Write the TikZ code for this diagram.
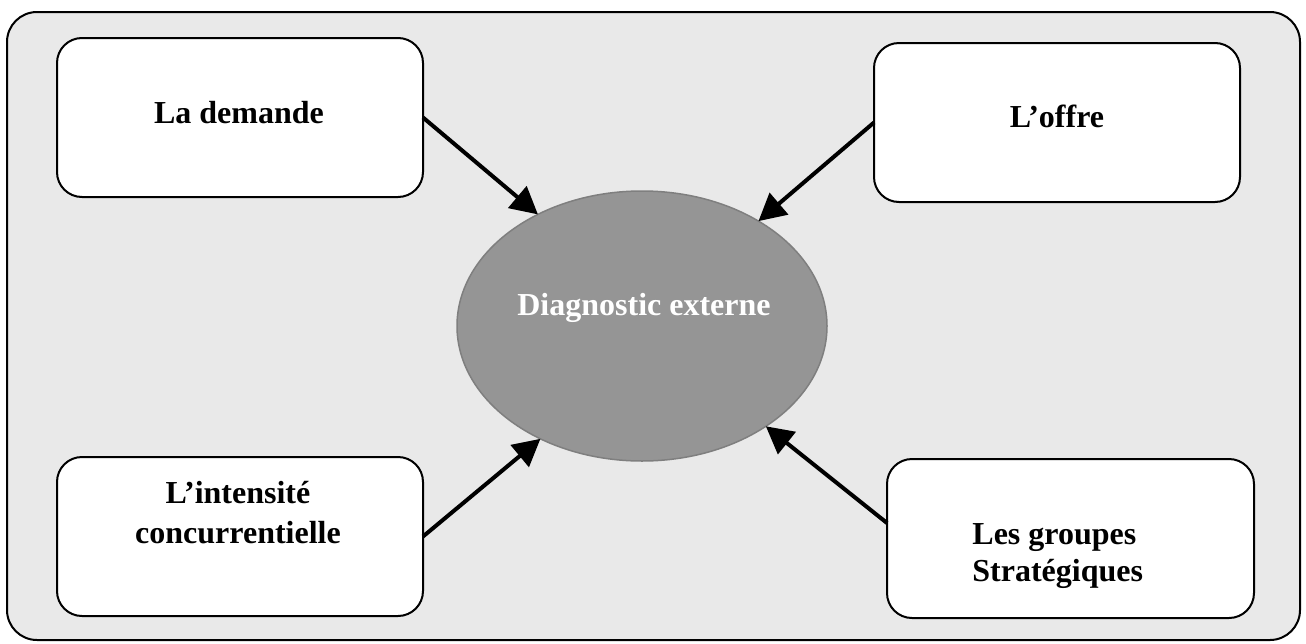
\documentclass[tikz,border=0pt]{standalone}
\usepackage{fontspec}
\setmainfont{Liberation Serif}
\usetikzlibrary{arrows.meta,shapes.geometric}
\definecolor{bgfill}{HTML}{E9E9E9}
\definecolor{ellfill}{HTML}{959595}
\definecolor{elldraw}{HTML}{7F7F7F}
\begin{document}
\begin{tikzpicture}[x=0.5pt,y=-0.5pt,
  box/.style={draw=black,line width=1pt,fill=white,rounded corners=12.5pt,minimum width=183pt,minimum height=79.5pt,inner sep=0pt,outer sep=0pt},
  lbl/.style={font=\fontsize{16pt}{20pt}\selectfont\bfseries,inner sep=0pt},
  arr/.style={line width=2pt,-{Triangle[length=13.5pt,width=14pt]}}]
\useasboundingbox (0,0) rectangle (1306,643);
\node[draw=black, line width=1pt, fill=bgfill, rounded corners=15pt, minimum width=646.5pt, minimum height=314pt, inner sep=0pt, outer sep=0pt] (frame) at (653.5,326) {};
\node[box] (dem) at (240,117.5) {};
\node[box] (off) at (1057,122.5) {};
\node[box] (int) at (240,536.5) {};
\node[box, minimum width=183.5pt] (grp) at (1070.5,538.5) {};
\node[ellipse, draw=elldraw, line width=0.75pt, fill=ellfill, minimum width=185pt, minimum height=135pt, inner sep=0pt, outer sep=0pt] (ell) at (642,326) {};
\node[lbl, anchor=base] (tdem) at (239,123) {La demande};
\node[lbl, anchor=base] (toff) at (1057,127) {L’offre};
\node[lbl, align=center] (tint) at (238,513) {L’intensité\\concurrentielle};
\node[lbl, align=left, anchor=west] (tgrp) at (972,556) {Les groupes\\[-1.5pt]Stratégiques};
\node[lbl, anchor=base, text=white] (tell) at (644,315) {Diagnostic externe};
\draw[arr] (dem.east) -- (ell.133);
\draw[arr] (off.west) -- (ell.42);
\draw[arr] (int.east) -- (ell.228);
\draw[arr] ([yshift=7.75pt]grp.west) -- (ell.321.5);
\end{tikzpicture}
\end{document}
